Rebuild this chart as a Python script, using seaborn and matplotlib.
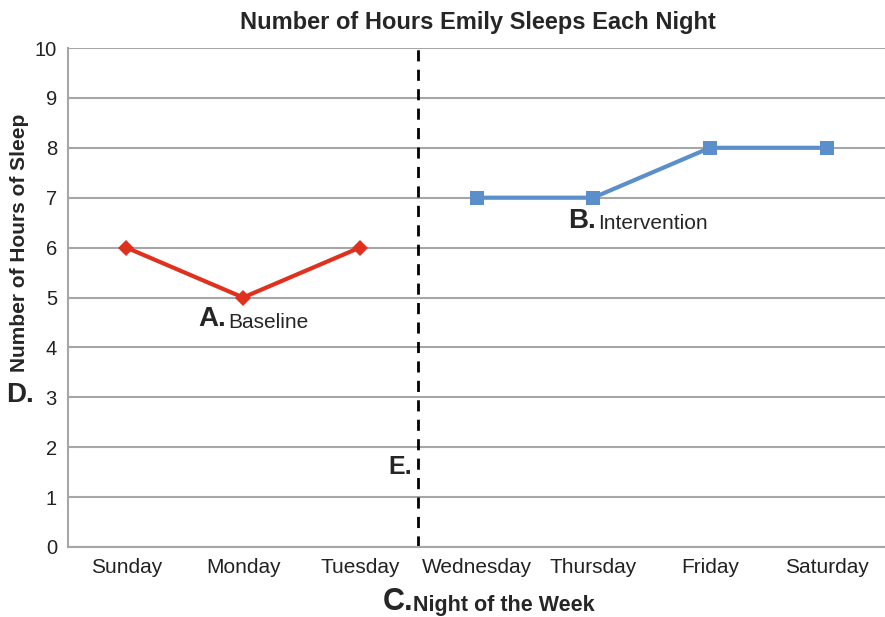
"""
Recreate a single-subject design chart: Emily's hours of sleep per night.
"""

import matplotlib

matplotlib.use("Agg")
import matplotlib.pyplot as plt
import seaborn as sns
import pandas as pd

# Data ---------------------------------------------------------------------------------
days = ["Sunday", "Monday", "Tuesday", "Wednesday", "Thursday", "Friday", "Saturday"]
baseline_days = ["Sunday", "Monday", "Tuesday"]
baseline_hours = [6, 5, 6]
intervention_days = ["Wednesday", "Thursday", "Friday", "Saturday"]
intervention_hours = [7, 7, 8, 8]
y_ticks = [0, 1, 2, 3, 4, 5, 6, 7, 8, 9, 10]

baseline_df = pd.DataFrame(
    {"pos": [days.index(d) for d in baseline_days], "hours": baseline_hours}
)
intervention_df = pd.DataFrame(
    {"pos": [days.index(d) for d in intervention_days], "hours": intervention_hours}
)

# Style --------------------------------------------------------------------------------
sns.set_theme(style="white")
plt.rcParams["font.family"] = ["Liberation Sans", "DejaVu Sans"]

RED = "#E0301E"
BLUE = "#5B8FCB"
GRAY = "#A6A6A6"

fig = plt.figure(figsize=(8.85, 6.17), dpi=100)
ax = fig.add_axes([68 / 885, 1 - 547 / 617, (885 - 68) / 885, (547 - 48) / 617])

# Lines
sns.lineplot(
    data=baseline_df, x="pos", y="hours", ax=ax, color=RED, lw=3,
    marker="D", markersize=8.5, markeredgewidth=0, zorder=3,
)
sns.lineplot(
    data=intervention_df, x="pos", y="hours", ax=ax, color=BLUE, lw=3,
    marker="s", markersize=9.5, markeredgewidth=0, zorder=3,
)

# Phase change line
phase_x = (days.index("Tuesday") + days.index("Wednesday")) / 2
ax.axvline(phase_x, color="black", ls=(0, (4, 3)), lw=2, zorder=2)

# Axes
ax.set_xlim(-0.5, len(days) - 0.55)
ax.set_ylim(0, 10)
ax.set_yticks(y_ticks)
ax.set_yticklabels([str(t) for t in y_ticks], fontsize=14.5, color="#222222")
ax.set_xticks(range(len(days)))
ax.set_xticklabels(days, fontsize=15, color="#222222")
ax.set_xticks([i - 0.5 for i in range(len(days) + 1)], minor=True)
ax.tick_params(axis="x", which="major", length=0, pad=8)
ax.tick_params(axis="x", which="minor", length=5, color=GRAY, width=1.2, direction="out")
ax.tick_params(axis="y", length=5, color=GRAY, width=1.2, direction="out", pad=3)
ax.yaxis.grid(True, color=GRAY, lw=1.5)
ax.xaxis.grid(False)
for side in ["top", "right"]:
    ax.spines[side].set_visible(False)
for side in ["left", "bottom"]:
    ax.spines[side].set_color(GRAY)
    ax.spines[side].set_linewidth(1.5)
ax.set_xlabel("")
ax.set_ylabel("")

# Titles and labels
fig.text(478 / 885, 1 - 22 / 617, "Number of Hours Emily Sleeps Each Night",
         ha="center", va="center", fontsize=17, fontweight="bold")
fig.text(20 / 885, 1 - 243 / 617, "Number of Hours of Sleep", rotation=90,
         ha="center", va="center", fontsize=15, fontweight="bold")
fig.text(20 / 885, 1 - 395 / 617, "D.", ha="center", va="center",
         fontsize=20, fontweight="bold")
fig.text(413 / 885, 1 - 602 / 617, "C.", ha="right", va="center",
         fontsize=22, fontweight="bold")
fig.text(413 / 885, 1 - 605 / 617, "Night of the Week", ha="left", va="center",
         fontsize=15.5, fontweight="bold")

ax.text(phase_x - 0.05, 1.6, "E.", ha="right", va="center",
        fontsize=18, fontweight="bold")
ax.text(0.855, 4.57, "A.", ha="right", va="center", fontsize=20, fontweight="bold")
ax.text(0.87, 4.5, "Baseline", ha="left", va="center", fontsize=15)
ax.text(4.02, 6.53, "B.", ha="right", va="center", fontsize=20, fontweight="bold")
ax.text(4.04, 6.48, "Intervention", ha="left", va="center", fontsize=15)

fig.savefig("out.png", dpi=100)
